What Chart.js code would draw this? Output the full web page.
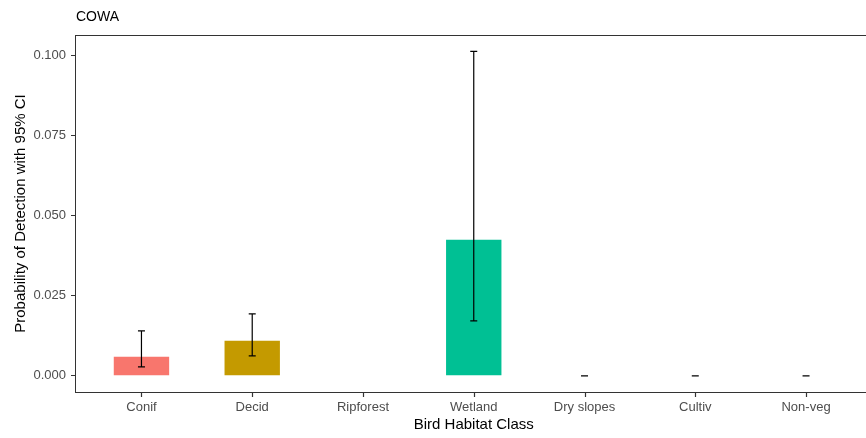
<!DOCTYPE html>
<html>
<head>
<meta charset="utf-8">
<script src="https://cdn.jsdelivr.net/npm/chart.js@4"></script>
<style>
  html, body { margin: 0; padding: 0; background: #fff; overflow: hidden; }
  #wrap { width: 880px; height: 438px; }
</style>
</head>
<body>
<div id="wrap"><canvas id="cowa" width="880" height="438"></canvas></div>
<script>
// COWA detection probability by habitat class
const habitats = ["Conif", "Decid", "Ripforest", "Wetland", "Dry slopes", "Cultiv", "Non-veg"];
const probDetect = [0.0059, 0.0109, null, 0.0424, 0, 0, 0];
const ciLower   = [0.0028, 0.0062, null, 0.0171, 0, 0, 0];
const ciUpper   = [0.0140, 0.0193, null, 0.1012, 0, 0, 0];
const yTicks    = [0, 0.025, 0.05, 0.075, 0.1];
const barColors = ["#F8766D", "#C49A00", "#53B400", "#00C094", "#00B6EB", "#A58AFF", "#FB61D7"];

const ink = "#333333";
const tickInk = "#4d4d4d";
const fam = "'Liberation Sans', Arial, sans-serif";

const errorBars = {
  id: "errorBars",
  afterDatasetsDraw(chart) {
    const { ctx, scales: { x, y } } = chart;
    ctx.save();
    ctx.strokeStyle = "#000";
    ctx.lineWidth = 1.2;
    habitats.forEach((h, i) => {
      if (ciLower[i] == null) return;
      const px = x.getPixelForValue(i);
      const lo = y.getPixelForValue(ciLower[i]);
      const hi = y.getPixelForValue(ciUpper[i]);
      ctx.beginPath();
      ctx.moveTo(px, lo); ctx.lineTo(px, hi);
      ctx.moveTo(px - 3.5, lo); ctx.lineTo(px + 3.5, lo);
      ctx.moveTo(px - 3.5, hi); ctx.lineTo(px + 3.5, hi);
      ctx.stroke();
    });
    ctx.restore();
  },
  afterDraw(chart) {
    const { ctx, chartArea: a, scales: { x } } = chart;
    ctx.save();
    ctx.strokeStyle = ink;
    ctx.lineWidth = 1;
    ctx.strokeRect(a.left + 0.5, a.top + 0.5, a.right - a.left, a.bottom - a.top);
    // x tick marks
    ctx.lineWidth = 1.2;
    ctx.beginPath();
    habitats.forEach((h, i) => {
      const px = Math.round(x.getPixelForValue(i)) + 0.5;
      ctx.moveTo(px, a.bottom); ctx.lineTo(px, a.bottom + 5);
    });
    ctx.stroke();
    ctx.fillStyle = "#000";
    ctx.font = "14px " + fam;
    ctx.textBaseline = "middle";
    ctx.fillText("COWA", a.left + 1, 17);
    ctx.restore();
  },
};

new Chart(document.getElementById("cowa"), {
  type: "bar",
  data: {
    datasets: [{
      data: habitats.map((h, i) => ({ x: i, y: probDetect[i] })),
      backgroundColor: barColors,
      borderWidth: 0,
      barPercentage: 0.5,
      categoryPercentage: 1,
    }],
  },
  options: {
    responsive: false,
    animation: false,
    layout: { padding: { top: 35, right: 7.5, left: 0, bottom: 0 } },
    plugins: { legend: { display: false }, tooltip: { enabled: false } },
    scales: {
      x: {
        type: "linear",
        offset: false,
        min: -0.6, max: 6.6,
        afterBuildTicks: (s) => { s.ticks = habitats.map((h, i) => ({ value: i })); },
        afterFit: (s) => { s.height = 46; },
        grid: { display: false },
        border: { display: false },
        ticks: {
          autoSkip: false, maxRotation: 0, padding: 0, color: tickInk,
          font: { family: fam, size: 13 },
          callback: (v) => habitats[v],
        },
        title: {
          display: true, text: "Bird Habitat Class", color: "#000",
          font: { family: fam, size: 15 },
          padding: { top: 0, bottom: 4 },
        },
      },
      y: {
        min: -0.00506, max: 0.1063,
        afterBuildTicks: (s) => { s.ticks = yTicks.map((v) => ({ value: v })); },
        afterFit: (s) => { s.width = 75; },
        grid: { drawOnChartArea: false, drawTicks: true, tickLength: 4, color: ink },
        border: { display: false },
        ticks: {
          padding: 5, color: tickInk,
          font: { family: fam, size: 13 },
          callback: (v) => v.toFixed(3),
        },
        title: {
          display: true, text: "Probability of Detection with 95% CI", color: "#000",
          font: { family: fam, size: 15 },
          padding: { top: 12, bottom: 0 },
        },
      },
    },
  },
  plugins: [errorBars],
});
</script>
</body>
</html>
